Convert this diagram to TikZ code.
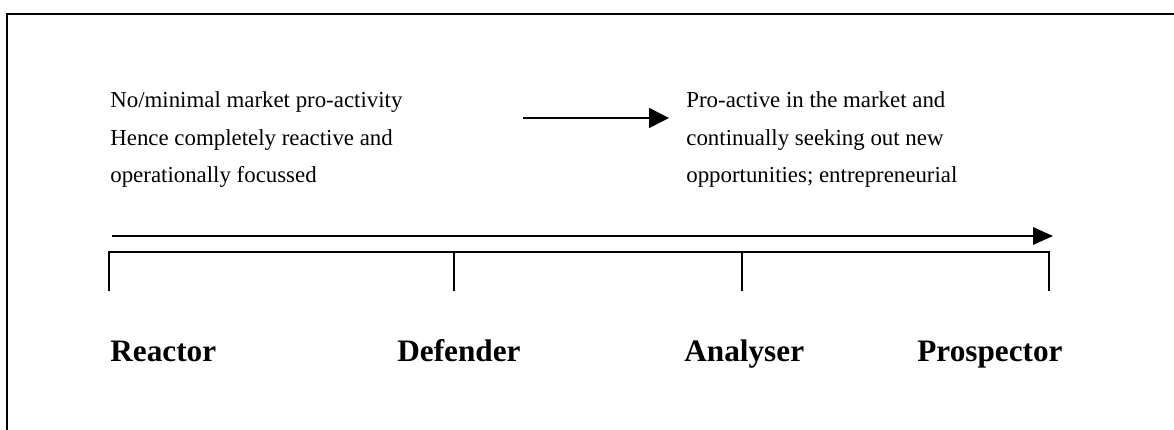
\documentclass[tikz,border=0pt]{standalone}
\usepackage{fontspec}
\setmainfont{Liberation Serif}
\usetikzlibrary{arrows.meta}
\begin{document}
\begin{tikzpicture}[x=0.525pt,y=-0.525pt,
  desc/.style={anchor=base west,inner sep=0pt,font=\fontsize{12}{14}\selectfont},
  typename/.style={anchor=base west,inner sep=0pt,font=\fontsize{16.4}{19}\selectfont\bfseries},
  frame/.style={line width=1.05pt},
  rule/.style={line width=0.8pt},
  pointer/.style={rule,-{Triangle[length=10.5pt,width=10.5pt]}},
  axis/.style={rule,-{Triangle[length=10.5pt,width=9.2pt]}}
]
\useasboundingbox (0,0) rectangle (1174,430);
% open frame: top and left edges
\draw[frame] (1180,14) -- (7,14) -- (7,436);

% left description
\node[desc] (l1) at (110,108) {No/minimal market pro-activity};
\node[desc] (l2) at (110,146) {Hence completely reactive and};
\node[desc] (l3) at (110,183) {operationally focussed};

% right description
\node[desc] (r1) at (686,108) {Pro-active in the market and};
\node[desc] (r2) at (686,146) {continually seeking out new};
\node[desc] (r3) at (686,183) {opportunities; entrepreneurial};

% short arrow between the descriptions
\coordinate (sa) at (523,118);
\coordinate (sb) at (669,118);
\draw[pointer] (sa) -- (sb);

% long continuum arrow
\coordinate (ma) at (112,236);
\coordinate (mb) at (1053,236);
\draw[axis] (ma) -- (mb);

% scale bracket with ticks
\coordinate (t1) at (109,252);
\coordinate (t2) at (454,252);
\coordinate (t3) at (742,252);
\coordinate (t4) at (1049,252);
\draw[rule] ([yshift=-39*0.525pt]t1) -- (t1) -- (t4) -- ([yshift=-39*0.525pt]t4);
\draw[rule] (t2) -- ([yshift=-39*0.525pt]t2);
\draw[rule] (t3) -- ([yshift=-39*0.525pt]t3);

% strategy types
\node[typename] (reactor) at (110,362) {Reactor};
\node[typename] (defender) at (397,362) {Defender};
\node[typename] (analyser) at (684,362) {Analyser};
\node[typename] (prospector) at (917,362) {Prospector};
\end{tikzpicture}
\end{document}
